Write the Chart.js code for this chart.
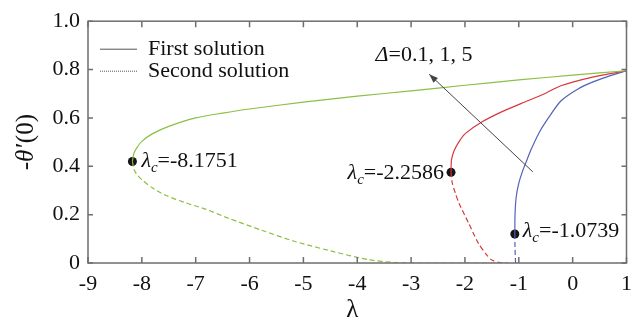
<!DOCTYPE html>
<html><head><meta charset="utf-8">
<script src="https://cdn.jsdelivr.net/npm/chart.js@4/dist/chart.umd.min.js"></script>
<style>html,body{margin:0;padding:0;background:#fff;}canvas{display:block;}</style>
</head><body>
<canvas id="c" width="640" height="321"></canvas>
<script>
// ---------- data ----------
const xTickLabels = ['-9','-8','-7','-6','-5','-4','-3','-2','-1','0','1'];
const yTickLabels = ['0','0.2','0.4','0.6','0.8','1.0'];
const deltaValues = ['0.1','1','5'];
const legendLabels = ['First solution','Second solution'];

// Delta = 5 (green)
const d5FirstX  = [-8.1751,-8.15,-8.1,-8.0,-7.8,-7.5,-7.0,-6.5,-6.0,-5.0,-4.0,-3.0,-2.0,-1.0,0.0,1.0];
const d5FirstY  = [0.42,0.452,0.474,0.503,0.535,0.565,0.600,0.620,0.637,0.665,0.69,0.712,0.735,0.757,0.777,0.795];
const d5SecondX = [-8.1751,-8.15,-8.1,-7.99,-7.8,-7.56,-7.2,-6.82,-6.39,-5.78,-5.17,-4.44,-3.8,-3.3,-2.8,-1.2];
const d5SecondY = [0.42,0.39,0.368,0.343,0.31,0.28,0.25,0.223,0.185,0.136,0.09,0.047,0.014,0.002,0,0];
// Delta = 1 (red)
const d1FirstX  = [-2.2586,-2.25,-2.2,-2.1,-1.99,-1.68,-1.32,-0.95,-0.52,-0.22,0.39,1.0];
const d1FirstY  = [0.375,0.426,0.465,0.505,0.536,0.584,0.625,0.66,0.70,0.733,0.77,0.795];
const d1SecondX = [-2.2586,-2.25,-2.235,-2.18,-2.11,-1.93,-1.75,-1.6,-1.5,-1.35,-1.2];
const d1SecondY = [0.375,0.355,0.33,0.29,0.247,0.164,0.081,0.035,0.012,0.002,0];
// Delta = 0.1 (blue)
const d01FirstX  = [-1.0739,-1.07,-1.05,-1.0,-0.93,-0.86,-0.77,-0.62,-0.45,-0.22,0.1,0.39,0.7,1.0];
const d01FirstY  = [0.12,0.2,0.27,0.33,0.38,0.42,0.47,0.54,0.6,0.67,0.72,0.75,0.775,0.795];
const d01SecondX = [-1.0739,-1.07,-1.06];
const d01SecondY = [0.12,0.06,0.0];

// critical points
const critX = [-8.1751,-2.2586,-1.0739];
const critY = [0.42,0.375,0.12];
// annotation arrow (data units): tail -> head
const arrowTail = [-0.74,0.377];
const arrowHead = [-2.664,0.781];
const deltaLabelAt = [-3.66,0.86];

// ---------- styles ----------
const SERIF = '"Liberation Serif","Times New Roman",serif';
const GREEN = '#8cbf45', RED = '#d8383c', BLUE = '#5262b8';
const AXIS = '#6e6e6e';

const pts = (xs, ys) => xs.map((v,i)=>({x:v,y:ys[i]}));
const lineDs = (label, xs, ys, color, dashed) => ({
  label, data: pts(xs,ys), showLine:true, borderColor:color, backgroundColor:color,
  borderWidth:1.2, pointRadius:0, borderDash: dashed ? [5,3] : [], tension:0.25
});

function drawRich(ctx, parts, x, y, align){
  let total = 0;
  parts.forEach(p=>{ ctx.font=p.font; p.w = ctx.measureText(p.t).width; total += p.w + (p.gap||0); });
  let cx = align==='right' ? x-total : align==='center' ? x-total/2 : x;
  ctx.textBaseline='middle'; ctx.textAlign='left';
  parts.forEach(p=>{ ctx.font=p.font; ctx.fillText(p.t, cx, y+(p.dy||0)); cx += p.w + (p.gap||0); });
}

const decor = {
  id:'decor',
  afterDraw(chart){
    const {ctx, chartArea:a, scales:{x,y}} = chart;
    ctx.save();
    ctx.strokeStyle=AXIS; ctx.lineWidth=1.5;
    ctx.strokeRect(a.left, a.top, a.right-a.left, a.bottom-a.top);
    ctx.beginPath();
    x.ticks.forEach(t=>{ const px=x.getPixelForValue(t.value);
      ctx.moveTo(px,a.bottom); ctx.lineTo(px,a.bottom-6);
      ctx.moveTo(px,a.top); ctx.lineTo(px,a.top+6); });
    y.ticks.forEach(t=>{ const py=y.getPixelForValue(t.value);
      ctx.moveTo(a.left,py); ctx.lineTo(a.left+5,py);
      ctx.moveTo(a.right,py); ctx.lineTo(a.right-5,py); });
    ctx.stroke();

    ctx.fillStyle='#111';
    const R = '22px '+SERIF, I = 'italic 22px '+SERIF, S = 'italic 15px '+SERIF;
    const RT = '25px '+SERIF, IT = 'italic 25px '+SERIF;
    drawRich(ctx,[{t:'λ',font:RT}], (a.left+a.right)/2-5, 310, 'center');
    ctx.save(); ctx.translate(26,(a.top+a.bottom)/2); ctx.rotate(-Math.PI/2);
    drawRich(ctx,[{t:'-',font:RT},{t:'θ′',font:IT,gap:1},{t:'(0)',font:RT}],0,0,'center');
    ctx.restore();

    const lx = a.left+12, ly1 = a.top+28, ly2 = a.top+50;
    ctx.strokeStyle='#555'; ctx.lineWidth=1;
    ctx.beginPath(); ctx.moveTo(lx,ly1); ctx.lineTo(lx+37,ly1); ctx.stroke();
    ctx.setLineDash([1,1]); ctx.beginPath(); ctx.moveTo(lx,ly2); ctx.lineTo(lx+37,ly2); ctx.stroke(); ctx.setLineDash([]);
    drawRich(ctx,[{t:legendLabels[0],font:R}], lx+48, ly1, 'left');
    drawRich(ctx,[{t:legendLabels[1],font:R}], lx+48, ly2, 'left');

    const offs = [[9,0,'left'],[-7,1,'right'],[8,-3,'left']];
    critX.forEach((cx,i)=>{
      const px=x.getPixelForValue(cx), py=y.getPixelForValue(critY[i]);
      drawRich(ctx,[{t:'λ',font:I},{t:'c',font:S,dy:7},{t:'=' + cx.toFixed(4),font:R}], px+offs[i][0], py+offs[i][1], offs[i][2]);
    });

    const tx=x.getPixelForValue(arrowTail[0]), ty=y.getPixelForValue(arrowTail[1]);
    const hx=x.getPixelForValue(arrowHead[0]), hy=y.getPixelForValue(arrowHead[1]);
    ctx.strokeStyle='#444'; ctx.fillStyle='#444'; ctx.lineWidth=1;
    ctx.beginPath(); ctx.moveTo(tx,ty); ctx.lineTo(hx,hy); ctx.stroke();
    const ang=Math.atan2(hy-ty,hx-tx), L=9, W=3.2;
    ctx.beginPath(); ctx.moveTo(hx,hy);
    ctx.lineTo(hx-L*Math.cos(ang)+W*Math.sin(ang), hy-L*Math.sin(ang)-W*Math.cos(ang));
    ctx.lineTo(hx-L*Math.cos(ang)-W*Math.sin(ang), hy-L*Math.sin(ang)+W*Math.cos(ang));
    ctx.closePath(); ctx.fill();

    ctx.fillStyle='#111';
    drawRich(ctx,[{t:'Δ',font:I},{t:'=' + deltaValues.join(', '),font:R}],
      x.getPixelForValue(deltaLabelAt[0]), y.getPixelForValue(deltaLabelAt[1]), 'left');
    ctx.restore();
  }
};

function build(){
new Chart(document.getElementById('c'), {
  type:'scatter',
  data:{ datasets:[
    lineDs('Δ=5 first', d5FirstX, d5FirstY, GREEN, false),
    lineDs('Δ=5 second', d5SecondX, d5SecondY, GREEN, true),
    lineDs('Δ=1 first', d1FirstX, d1FirstY, RED, false),
    lineDs('Δ=1 second', d1SecondX, d1SecondY, RED, true),
    lineDs('Δ=0.1 first', d01FirstX, d01FirstY, BLUE, false),
    lineDs('Δ=0.1 second', d01SecondX, d01SecondY, BLUE, true),
    { label:'critical', data: pts(critX,critY), showLine:false, pointRadius:4.5,
      pointBackgroundColor:'#151515', pointBorderColor:'#151515', pointBorderWidth:0 }
  ]},
  options:{
    responsive:false, animation:false, devicePixelRatio:1,
    layout:{ padding:{ top:21, right:7, left:0, bottom:0 } },
    plugins:{ legend:{display:false}, tooltip:{enabled:false} },
    scales:{
      x:{ type:'linear', min:-9, max:1,
        afterBuildTicks: s => { s.ticks = xTickLabels.map(v=>({value:Number(v)})); },
        afterFit: s => { s.height = 58; },
        grid:{display:false, drawTicks:false}, border:{display:false},
        ticks:{ autoSkip:false, maxRotation:0, padding:8, color:'#111', font:{family:SERIF,size:22},
          callback:(v)=> xTickLabels[xTickLabels.map(Number).indexOf(v)] } },
      y:{ type:'linear', min:0, max:1,
        afterBuildTicks: s => { s.ticks = yTickLabels.map(v=>({value:Number(v)})); },
        afterFit: s => { s.width = 88; },
        grid:{display:false, drawTicks:false}, border:{display:false},
        ticks:{ autoSkip:false, padding:8, color:'#111', font:{family:SERIF,size:22},
          callback:(v)=> yTickLabels[yTickLabels.map(Number).indexOf(v)] } }
    }
  },
  plugins:[decor]
});
}
if (document.fonts && document.fonts.load) {
  Promise.all([document.fonts.load('22px "Liberation Serif"'), document.fonts.load('italic 22px "Liberation Serif"')])
    .then(build, build);
} else build();
</script>
</body></html>
